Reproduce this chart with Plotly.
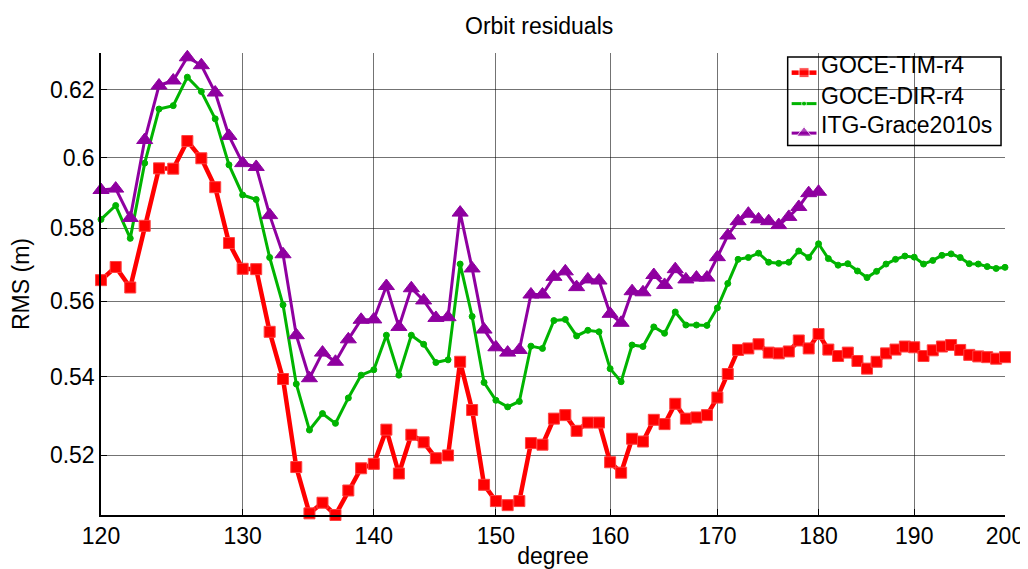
import math
import plotly.graph_objects as go

degree = list(range(120, 201))
degree_itg = list(range(120, 181))

tim_r4 = [0.5657, 0.5693, 0.5637, 0.5807, 0.5970, 0.5969, 0.6049, 0.5999, 0.5916, 0.5759,
          0.5688, 0.5687, 0.5518, 0.5394, 0.5170, 0.5056, 0.5082, 0.5052, 0.5112, 0.5167,
          0.5178, 0.5264, 0.5154, 0.5251, 0.5232, 0.5192, 0.5199, 0.5439, 0.5314, 0.5126,
          0.5086, 0.5076, 0.5086, 0.5230, 0.5226, 0.5292, 0.5301, 0.5261, 0.5282, 0.5282,
          0.5182, 0.5156, 0.5241, 0.5234, 0.5289, 0.5278, 0.5330, 0.5292, 0.5295, 0.5301,
          0.5346, 0.5407, 0.5470, 0.5474, 0.5485, 0.5463, 0.5461, 0.5466, 0.5495, 0.5474,
          0.5512, 0.5471, 0.5454, 0.5463, 0.5441, 0.5421, 0.5439, 0.5461, 0.5471, 0.5479,
          0.5477, 0.5454, 0.5469, 0.5479, 0.5483, 0.5470, 0.5457, 0.5453, 0.5451, 0.5447,
          0.5451]

dir_r4 = [0.5825, 0.5864, 0.5772, 0.5985, 0.6143, 0.6153, 0.6238, 0.6195, 0.6114, 0.5980,
          0.5894, 0.5881, 0.5719, 0.5590, 0.5381, 0.5263, 0.5305, 0.5280, 0.5345, 0.5404,
          0.5418, 0.5509, 0.5404, 0.5509, 0.5485, 0.5437, 0.5444, 0.5701, 0.5559, 0.5385,
          0.5339, 0.5322, 0.5336, 0.5480, 0.5474, 0.5548, 0.5551, 0.5507, 0.5522, 0.5518,
          0.5421, 0.5387, 0.5483, 0.5479, 0.5531, 0.5514, 0.5571, 0.5536, 0.5536, 0.5535,
          0.5582, 0.5648, 0.5714, 0.5719, 0.5731, 0.5706, 0.5703, 0.5706, 0.5737, 0.5719,
          0.5757, 0.5716, 0.5698, 0.5702, 0.5682, 0.5664, 0.5681, 0.5701, 0.5714, 0.5723,
          0.5720, 0.5701, 0.5711, 0.5725, 0.5729, 0.5719, 0.5702, 0.5701, 0.5694, 0.5689,
          0.5692]

itg_grace2010s = [0.5908, 0.5912, 0.5829, 0.6052, 0.6213, 0.6228, 0.6298, 0.6274, 0.6192, 0.6064,
                  0.5985, 0.5974, 0.5837, 0.5728, 0.5509, 0.5396, 0.5463, 0.5439, 0.5498, 0.5550,
                  0.5551, 0.5641, 0.5531, 0.5635, 0.5602, 0.5555, 0.5557, 0.5844, 0.5689, 0.5524,
                  0.5477, 0.5463, 0.5470, 0.5618, 0.5618, 0.5666, 0.5681, 0.5638, 0.5659, 0.5656,
                  0.5566, 0.5542, 0.5627, 0.5624, 0.5671, 0.5644, 0.5687, 0.5659, 0.5664, 0.5664,
                  0.5720, 0.5780, 0.5820, 0.5841, 0.5825, 0.5820, 0.5809, 0.5832, 0.5860, 0.5899,
                  0.5903]

series_names = ["GOCE-TIM-r4", "GOCE-DIR-r4", "ITG-Grace2010s"]

x_ticks = [120, 130, 140, 150, 160, 170, 180, 190, 200]
y_ticks = [0.52, 0.54, 0.56, 0.58, 0.60, 0.62]
y_tick_text = ["0.52", "0.54", "0.56", "0.58", "0.6", "0.62"]

FONT = "Liberation Sans, Arial, sans-serif"
RED = "#ff0000"
GREEN = "#00b400"
PURPLE = "#8f00a0"

# pixel layout
W, H = 1028, 569
ML, MR, MT, MB = 92, 25, 45, 54
PL, PR, PT, PB = ML, W - MR, MT, H - MB
PW, PH = PR - PL, PB - PT


def px_to_paper_x(px):
    return (px - PL) / PW


def px_to_paper_y(py):
    return (PB - py) / PH


styles = [
    dict(line=dict(color=RED, width=4.5),
         marker=dict(symbol="square", size=11, color=RED, line=dict(color="#ff4040", width=1))),
    dict(line=dict(color=GREEN, width=3),
         marker=dict(symbol="circle", size=6, color=GREEN, line=dict(color=GREEN, width=1))),
    dict(line=dict(color=PURPLE, width=3),
         marker=dict(symbol="triangle-up", size=14, color=PURPLE, line=dict(color=PURPLE, width=1))),
]

fig = go.Figure()
for xs, ys, name, st in zip([degree, degree, degree_itg],
                            [tim_r4, dir_r4, itg_grace2010s], series_names, styles):
    fig.add_trace(go.Scatter(x=xs, y=ys, name=name, mode="lines+markers",
                             line=st["line"], marker=st["marker"],
                             cliponaxis=False, showlegend=False))

# ---- custom legend drawn on a pixel overlay axis ----
LEG_X0, LEG_X1, LEG_Y0, LEG_Y1 = 784, 999, 49, 139
row_y = [65, 96.5, 126.5]
sample_x0, sample_x1, text_x = 788, 813, 816
shapes = [dict(type="rect", xref="paper", yref="paper",
               x0=px_to_paper_x(LEG_X0), x1=px_to_paper_x(LEG_X1),
               y0=px_to_paper_y(LEG_Y1), y1=px_to_paper_y(LEG_Y0),
               line=dict(color="black", width=1.5), fillcolor="white", layer="between")]
annotations = []
for ry, name, st in zip(row_y, series_names, styles):
    fig.add_trace(go.Scatter(
        x=[sample_x0, (sample_x0 + sample_x1) / 2, sample_x1], y=[ry, ry, ry],
        mode="lines+markers", xaxis="x2", yaxis="y2",
        line=st["line"],
        marker=dict(symbol=st["marker"]["symbol"], color=st["marker"]["color"],
                    size=[0, st["marker"]["size"] - 1, 0]),
        cliponaxis=False, showlegend=False, hoverinfo="skip"))
    annotations.append(dict(text=name, x=px_to_paper_x(text_x), y=px_to_paper_y(ry - 8),
                            xref="paper", yref="paper",
                            xanchor="left", yanchor="middle", showarrow=False,
                            font=dict(family=FONT, size=23, color="black")))

annotations.append(dict(text="Orbit residuals", x=px_to_paper_x(533), y=px_to_paper_y(2),
                        xref="paper", yref="paper",
                        xanchor="center", yanchor="top", showarrow=False,
                        font=dict(family=FONT, size=23, color="black")))

grid_col = "rgba(0,0,0,0.55)"
fig.update_layout(
    width=W, height=H,
    margin=dict(l=ML, r=MR, t=MT, b=MB),
    paper_bgcolor="white", plot_bgcolor="white",
    font=dict(family=FONT, size=23, color="black"),
    showlegend=False,
    shapes=shapes,
    annotations=annotations,
    xaxis=dict(
        type="log", range=[math.log10(120), math.log10(200)],
        tickmode="array", tickvals=x_ticks, ticktext=[str(v) for v in x_ticks],
        showgrid=True, gridcolor=grid_col, gridwidth=1,
        showline=True, linecolor="black", linewidth=1.5,
        ticks="inside", ticklen=6, tickcolor="black",
        zeroline=False,
        title=dict(text="degree", standoff=0, font=dict(family=FONT, size=23)),
        tickfont=dict(family=FONT, size=23),
    ),
    yaxis=dict(
        type="log", range=[math.log10(0.5052), math.log10(0.6311)],
        tickmode="array", tickvals=y_ticks, ticktext=y_tick_text,
        showgrid=True, gridcolor=grid_col, gridwidth=1,
        showline=True, linecolor="black", linewidth=1.5,
        ticks="inside", ticklen=6, tickcolor="black",
        zeroline=False,
        title=dict(text="RMS (m)", standoff=14, font=dict(family=FONT, size=23)),
        tickfont=dict(family=FONT, size=23),
    ),
    xaxis2=dict(overlaying="x", anchor="y2", range=[PL, PR], visible=False,
                showgrid=False, zeroline=False, fixedrange=True),
    yaxis2=dict(overlaying="y", anchor="x2", range=[PB, PT], visible=False,
                showgrid=False, zeroline=False, fixedrange=True),
)

fig.write_html("out.html")
